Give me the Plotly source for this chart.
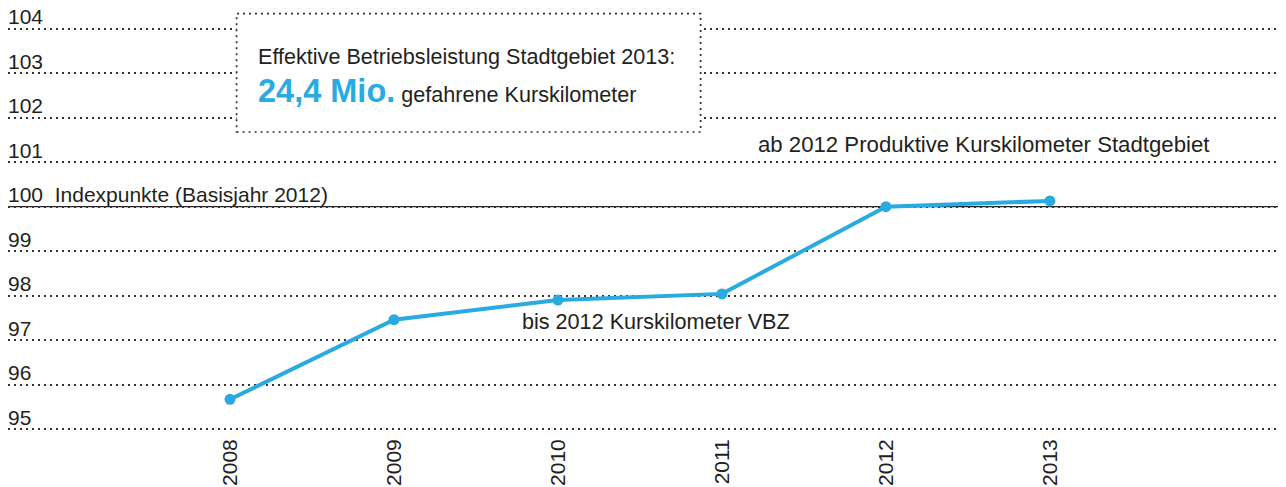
import plotly.graph_objects as go

years = [2008, 2009, 2010, 2011, 2012, 2013]
index_values = [95.67, 97.46, 97.9, 98.04, 100.0, 100.13]
y_ticks = [95, 96, 97, 98, 99, 100, 101, 102, 103, 104]
y_tick_text = ["95", "96", "97", "98", "99", "100\u00a0\u00a0Indexpunkte (Basisjahr 2012)",
               "101", "102", "103", "104"]
box_line1 = "Effektive Betriebsleistung Stadtgebiet 2013:"
box_big = "24,4 Mio."
box_line2 = "gefahrene Kurskilometer"
label_ab = "ab 2012 Produktive Kurskilometer Stadtgebiet"
label_bis = "bis 2012 Kurskilometer VBZ"

BLUE = "#29abe2"
TXT = "#231f20"
FONT = "Liberation Sans, Arial, sans-serif"

fig = go.Figure()
fig.add_trace(go.Scatter(
    x=years, y=index_values, mode="lines+markers",
    line=dict(color=BLUE, width=4),
    marker=dict(color=BLUE, size=11),
    showlegend=False, hoverinfo="skip", cliponaxis=False,
))

# page body has an 8px margin, so the figure is 8px smaller than the window
W, H = 1278, 479
fig.update_layout(
    width=W, height=H,
    margin=dict(l=0, r=0, t=3.2, b=49.1, autoexpand=False),
    paper_bgcolor="white", plot_bgcolor="white",
    font=dict(family=FONT, size=21, color=TXT),
    xaxis=dict(
        range=[2006.646, 2014.44], tickvals=years, ticktext=[str(y) for y in years],
        tickangle=-90, showgrid=False, zeroline=False, showline=False, ticks="",
        automargin=False, ticklabelstandoff=-4, tickfont=dict(size=21, color=TXT),
    ),
    yaxis=dict(
        range=[94.8, 104.4], tickvals=y_ticks, ticktext=y_tick_text,
        ticklabelposition="inside top", ticklabeloverflow="allow", ticklabelstandoff=-3,
        ticklabelshift=3,
        showgrid=True, gridcolor="#333333",
        griddash="2px,4px", gridwidth=1.7, zeroline=False, showline=False, ticks="",
        automargin=False, tickfont=dict(size=21, color=TXT),
    ),
)

# solid baseline at 100
fig.add_shape(type="line", xref="paper", yref="y", x0=0.0016, x1=1, y0=100, y1=100,
              line=dict(color="#231f20", width=1.3), layer="between")

# info box
fig.add_shape(type="rect", xref="x", yref="y", x0=2008.04, x1=2010.87, y0=101.68, y1=104.34,
              line=dict(color="#333333", width=1.7, dash="2px,4px"), fillcolor="white",
              layer="above")

fig.add_annotation(x=2008.16, y=103.37, xref="x", yref="y", xanchor="left", yanchor="middle",
                   text=box_line1, showarrow=False, font=dict(size=21.6, color=TXT))
fig.add_annotation(x=2008.16, y=102.6, xref="x", yref="y", xanchor="left", yanchor="middle",
                   text=f"<b><span style='color:{BLUE};font-size:32.5px'>{box_big}</span></b> {box_line2}",
                   showarrow=False, font=dict(size=21.6, color=TXT))
fig.add_annotation(x=2011.21, y=101.39, xref="x", yref="y", xanchor="left", yanchor="middle",
                   text=label_ab, showarrow=False, font=dict(size=22.2, color=TXT))
fig.add_annotation(x=2009.77, y=97.41, xref="x", yref="y", xanchor="left", yanchor="middle",
                   text=label_bis, showarrow=False, font=dict(size=21.6, color=TXT))

fig.write_html("out.html")
